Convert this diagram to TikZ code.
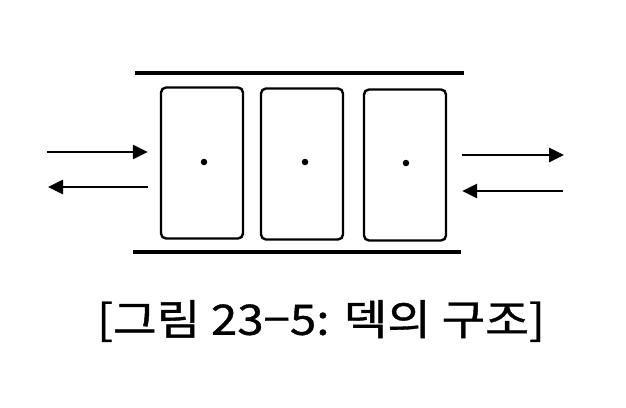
\documentclass[tikz,border=0pt]{standalone}
\usepackage{fontspec}
\usepackage{graphicx}
\newfontfamily\krfont[FakeBold=0.9]{Noto Sans CJK KR}
\usetikzlibrary{arrows.meta}
\begin{document}
\begin{tikzpicture}[x=1pt,y=-1pt,
  rail/.style={line width=3.4pt},
  cell/.style={draw,line width=2.4pt,rounded corners=5pt,minimum width=82pt,minimum height=151pt,inner sep=0pt},
  flow/.style={line width=2.6pt,-{Triangle[length=15pt,width=14pt]}},
  pip/.style={circle,fill,inner sep=0pt,minimum size=6.5pt}]
\useasboundingbox (0,0) rectangle (626,407);
\draw[rail] (135,73) coordinate (t1) -- (464,73) coordinate (t2);
\draw[rail] (133,252) coordinate (b1) -- (461,252) coordinate (b2);
\node[cell] (c1) at (202,163) {};
\node[cell] (c2) at (302,164) {};
\node[cell] (c3) at (405,165) {};
\node[pip] (d1) at (204,162) {};
\node[pip] (d2) at (305,162) {};
\node[pip] (d3) at (406,163) {};
\coordinate (la) at (47,152);
\coordinate (lb) at (48,187);
\coordinate (ra) at (564,155);
\coordinate (rb) at (563,191);
\draw[flow] (la) -- ([xshift=-12pt]c1.west |- la);
\draw[flow] ([xshift=-12pt]c1.west |- lb) -- (lb);
\draw[flow] ([xshift=15pt]c3.east |- ra) -- (ra);
\draw[flow] (rb) -- ([xshift=15pt]c3.east |- rb);
\node[font=\krfont\fontsize{42}{44}\selectfont,inner sep=0pt] (cap) at (321,321) {\scalebox{1.13}[1]{[그림 23−5: 덱의 구조]}};
\end{tikzpicture}
\end{document}
